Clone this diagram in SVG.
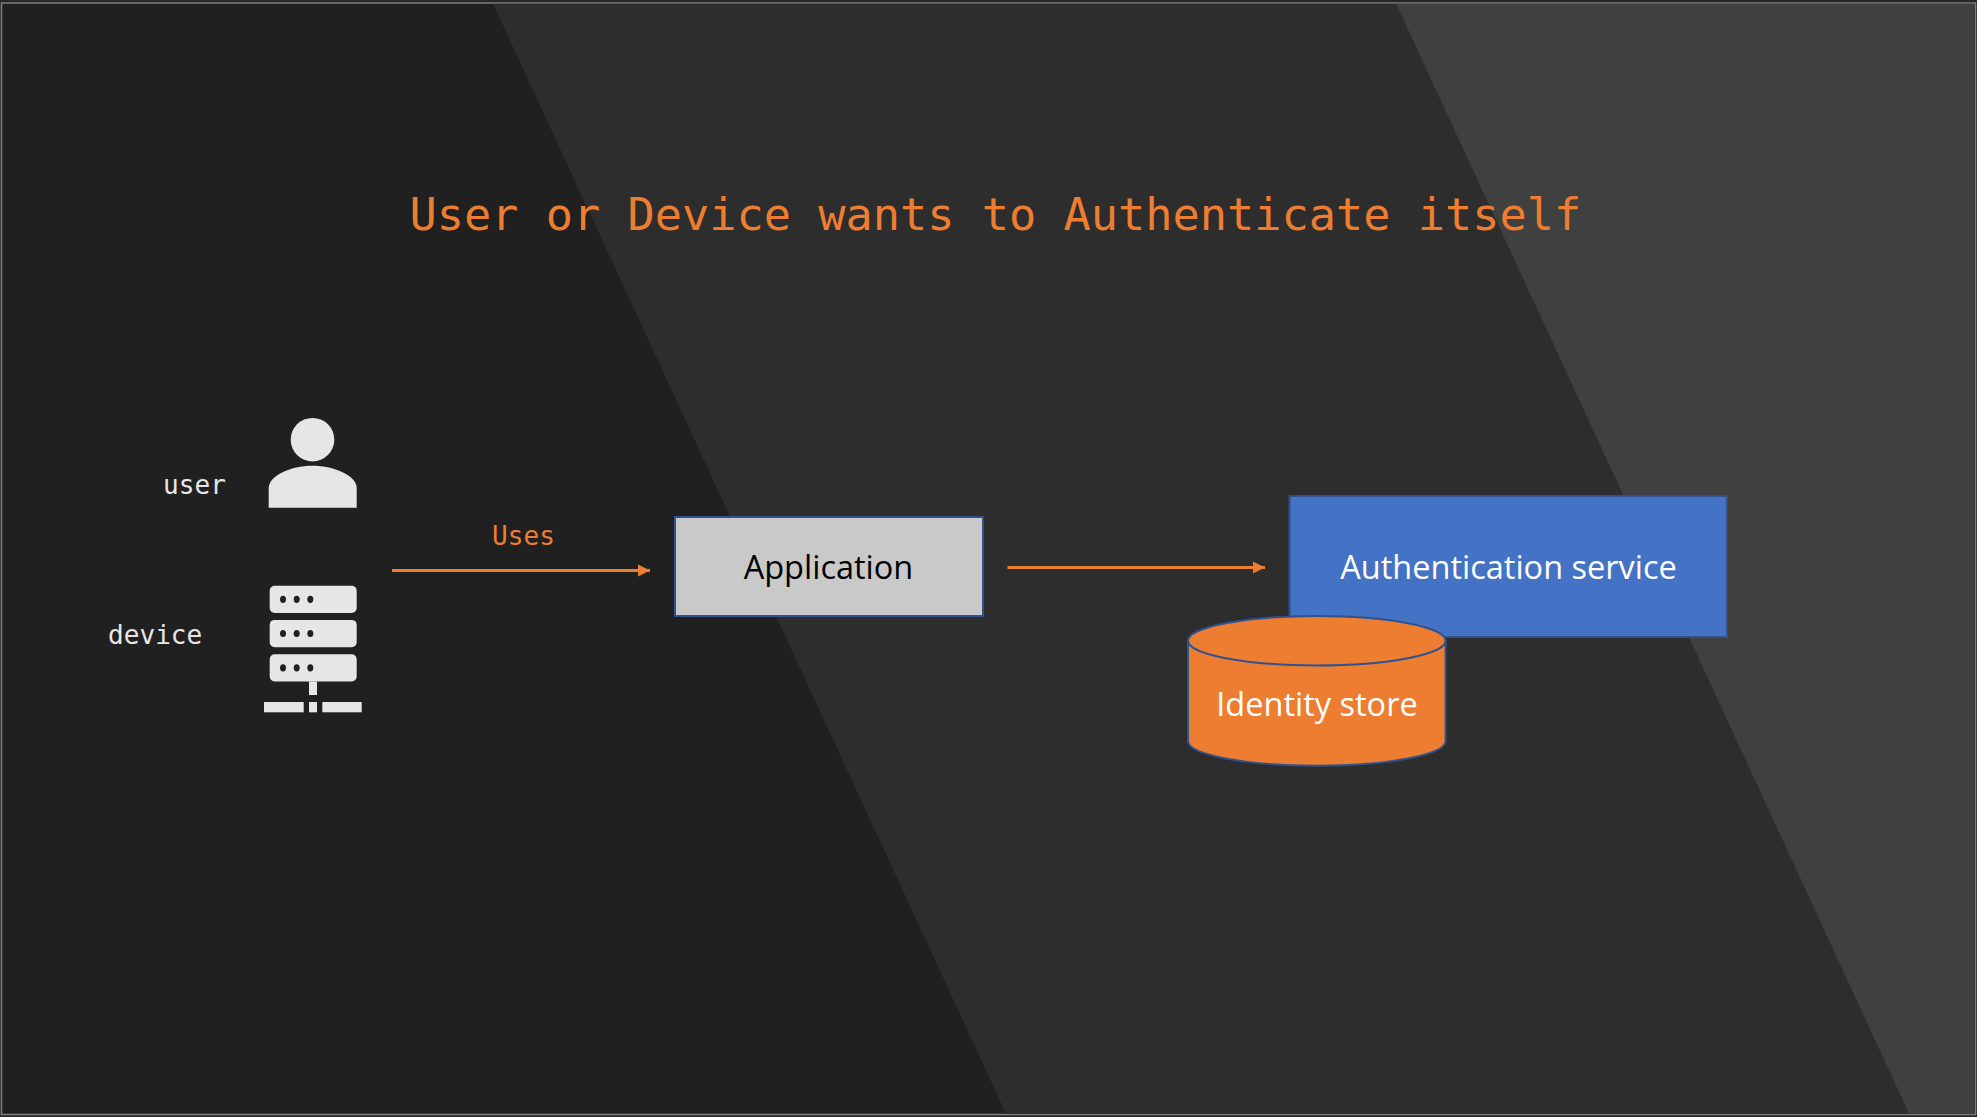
<svg xmlns="http://www.w3.org/2000/svg" width="1977" height="1117" viewBox="0 0 1977 1117">
<style>
.mono{font-family:"DejaVu Sans Mono","Liberation Mono",monospace}
.sans{font-family:"Open Sans","Noto Sans",sans-serif;font-size:32.5px}
.lbl{font-size:26.1px;fill:#e7e6e6}
.org{fill:#ed7d31}
.box{stroke:#2f528f;stroke-width:2}
.ic{fill:#e6e6e6}
.dot{fill:#202020}
.conn{stroke:#ed7d31;stroke-width:3;fill:none;marker-end:url(#ah)}
</style>
<defs><marker id="ah" markerUnits="userSpaceOnUse" markerWidth="13" markerHeight="13" refX="12" refY="6.5" orient="auto"><path d="M0 .5L12 6.5L0 12.5z" fill="#ed7d31"/></marker></defs>
<g id="background">
<rect width="1977" height="1117" fill="#262626"/>
<rect x="1.5" y="3" width="1974" height="1111.5" fill="#202020" stroke="#7f7f7f" stroke-width="1.5"/>
<path d="M493 3.7H1396L1909 1113.8H1006z" fill="#2d2d2d"/>
<path d="M1396 3.7H1974.5V1113.8H1909z" fill="#404040"/>
</g>
<text id="title" class="mono org" x="409.5" y="230" font-size="45.27">User or Device wants to Authenticate itself</text>
<g id="user">
<text class="mono lbl" x="163" y="494">user</text>
<circle class="ic" cx="312.5" cy="439.7" r="21.8"/>
<path class="ic" d="M268.7 507.7V488C268.7 476 290 465.7 312.5 465.7S356.7 476 356.7 488V507.7z"/>
</g>
<g id="device">
<text class="mono lbl" x="108" y="644">device</text>
<rect class="ic" x="269.7" y="585.7" width="87" height="27.3" rx="5"/>
<rect class="ic" x="269.7" y="619.9" width="87" height="27.3" rx="5"/>
<rect class="ic" x="269.7" y="654.2" width="87" height="27.3" rx="5"/>
<g class="dot">
<ellipse cx="283" cy="599.3" rx="3" ry="3.6"/><ellipse cx="296.7" cy="599.3" rx="3" ry="3.6"/><ellipse cx="310.3" cy="599.3" rx="3" ry="3.6"/>
<ellipse cx="283" cy="633.5" rx="3" ry="3.6"/><ellipse cx="296.7" cy="633.5" rx="3" ry="3.6"/><ellipse cx="310.3" cy="633.5" rx="3" ry="3.6"/>
<ellipse cx="283" cy="667.8" rx="3" ry="3.6"/><ellipse cx="296.7" cy="667.8" rx="3" ry="3.6"/><ellipse cx="310.3" cy="667.8" rx="3" ry="3.6"/>
</g>
<rect class="ic" x="309" y="681.5" width="8" height="13.5"/>
<rect class="ic" x="264" y="702" width="39.7" height="10.3"/>
<rect class="ic" x="309" y="702" width="8" height="10.3"/>
<rect class="ic" x="322.3" y="702" width="39.4" height="10.3"/>
</g>
<g id="connectors">
<path class="conn" d="M392 570.5H650"/>
<path class="conn" d="M1007.5 567.5H1265"/>
</g>
<text id="uses-label" class="mono org" x="492" y="545" font-size="26.1">Uses</text>
<g id="application">
<rect class="box" x="675" y="517" width="308" height="99" fill="#c9c9c9"/>
<text class="sans" x="828.5" y="578.5" text-anchor="middle" fill="#000">Application</text>
</g>
<g id="authentication-service">
<rect class="box" x="1289.6" y="496" width="437.4" height="141" fill="#4472c4"/>
<text class="sans" x="1508.5" y="578.5" text-anchor="middle" fill="#fff">Authentication service</text>
</g>
<g id="identity-store">
<path class="box" d="M1188 640.7V741C1188 754.6 1245.7 765.7 1316.8 765.7S1445.6 754.6 1445.6 741V640.7z" fill="#ed7d31"/>
<ellipse class="box" cx="1316.8" cy="640.7" rx="128.8" ry="24.7" fill="#ed7d31"/>
<text class="sans" x="1317" y="716" text-anchor="middle" fill="#fff">Identity store</text>
</g>
</svg>
